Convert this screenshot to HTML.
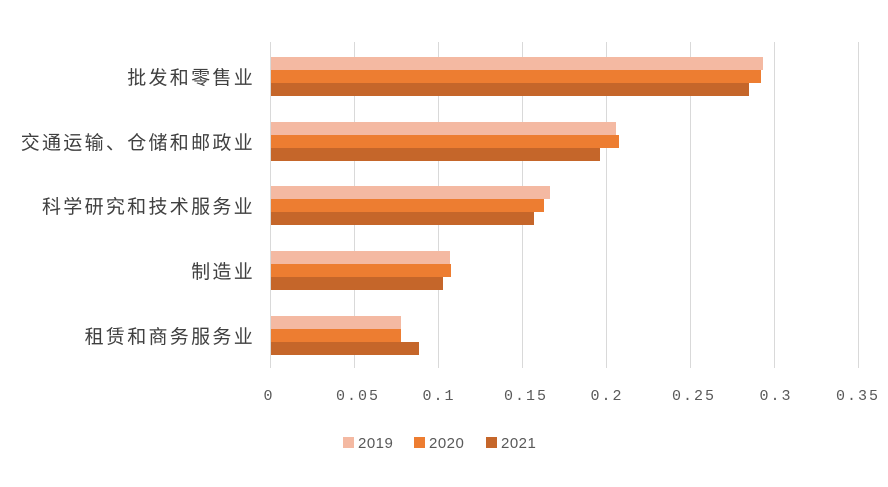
<!DOCTYPE html>
<html><head><meta charset="utf-8"><style>
html,body{margin:0;padding:0;background:#fff;}
</style></head><body>
<svg width="888" height="482" xmlns="http://www.w3.org/2000/svg" font-family="Liberation Sans, Noto Sans CJK SC, sans-serif">
<rect width="888" height="482" fill="#fff"/>
<g stroke="#d9d9d9" stroke-width="1">
<line x1="270.5" y1="42" x2="270.5" y2="368"/>
<line x1="354.5" y1="42" x2="354.5" y2="368"/>
<line x1="438.5" y1="42" x2="438.5" y2="368"/>
<line x1="522.5" y1="42" x2="522.5" y2="368"/>
<line x1="606.5" y1="42" x2="606.5" y2="368"/>
<line x1="690.5" y1="42" x2="690.5" y2="368"/>
<line x1="774.5" y1="42" x2="774.5" y2="368"/>
<line x1="858.5" y1="42" x2="858.5" y2="368"/>
</g>
<g>
<rect x="271" y="57" width="492" height="13" fill="#F4B9A2"/>
<rect x="271" y="70" width="490" height="13" fill="#ED7D31"/>
<rect x="271" y="83" width="478" height="13" fill="#C5662A"/>
<rect x="271" y="122" width="345" height="13" fill="#F4B9A2"/>
<rect x="271" y="135" width="348" height="13" fill="#ED7D31"/>
<rect x="271" y="148" width="329" height="13" fill="#C5662A"/>
<rect x="271" y="186" width="279" height="13" fill="#F4B9A2"/>
<rect x="271" y="199" width="273" height="13" fill="#ED7D31"/>
<rect x="271" y="212" width="263" height="13" fill="#C5662A"/>
<rect x="271" y="251" width="179" height="13" fill="#F4B9A2"/>
<rect x="271" y="264" width="180" height="13" fill="#ED7D31"/>
<rect x="271" y="277" width="172" height="13" fill="#C5662A"/>
<rect x="271" y="316" width="130" height="13" fill="#F4B9A2"/>
<rect x="271" y="329" width="130" height="13" fill="#ED7D31"/>
<rect x="271" y="342" width="148" height="13" fill="#C5662A"/>
</g>
<g font-size="19" fill="#404040" text-anchor="end" letter-spacing="2.3">
<text x="255" y="84">批发和零售业</text>
<text x="255" y="149">交通运输、仓储和邮政业</text>
<text x="255" y="213">科学研究和技术服务业</text>
<text x="255" y="278">制造业</text>
<text x="255" y="343">租赁和商务服务业</text>
</g>
<g font-size="15" fill="#595959" text-anchor="middle" font-family="Liberation Mono, monospace" letter-spacing="2">
<text x="269" y="400">0</text>
<text x="358" y="400">0.05</text>
<text x="439" y="400">0.1</text>
<text x="526" y="400">0.15</text>
<text x="607" y="400">0.2</text>
<text x="694" y="400">0.25</text>
<text x="776" y="400">0.3</text>
<text x="858" y="400">0.35</text>
</g>
<g font-size="15" fill="#595959">
<rect x="343" y="437" width="11" height="11" fill="#F4B9A2"/><text x="358" y="448" letter-spacing="0.5">2019</text>
<rect x="414" y="437" width="11" height="11" fill="#ED7D31"/><text x="429" y="448" letter-spacing="0.5">2020</text>
<rect x="486" y="437" width="11" height="11" fill="#C5662A"/><text x="501" y="448" letter-spacing="0.5">2021</text>
</g>
</svg>
</body></html>
